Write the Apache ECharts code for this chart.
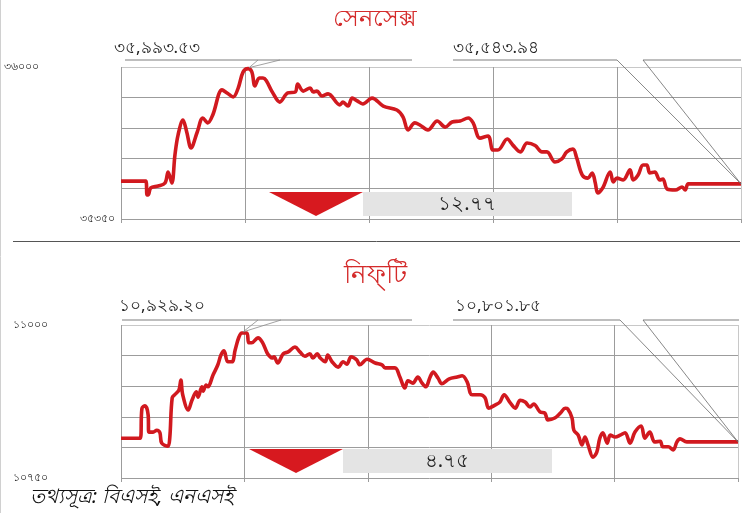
<!DOCTYPE html>
<html>
<head>
<meta charset="utf-8">
<script src="https://cdn.jsdelivr.net/npm/echarts@6/dist/echarts.min.js"></script>
<style>
html,body{margin:0;padding:0;background:#fff;}
#c{width:750px;height:513px;}
</style>
</head>
<body>
<div id="c"></div>
<script>
// ---------- DATA ----------
var sensexTitle = 'সেনসেক্স';
var niftyTitle = 'নিফ্‌টি';
var sourceText = 'তথ্যসূত্র: বিএসই, এনএসই';

var sensexTicks = ['৩৫৩৫০', '৩৬০০০'];   // min, max labels
var niftyTicks = ['১০৭৫০', '১১০০০'];

var sensexHighLabel = '৩৫,৯৯৩.৫৩';
var sensexCloseLabel = '৩৫,৫৪৩.৯৪';
var sensexChange = '১২.৭৭';
var niftyHighLabel = '১০,৯২৯.২০';
var niftyCloseLabel = '১০,৮০১.৮৫';
var niftyChange = '৪.৭৫';

// time in % of the trading session
var sensexTime = [0,4.0,4.2,4.4,4.8,6.0,7.1,7.6,8.2,8.7,9.2,10.0,10.6,11.3,12.3,13.2,14.0,14.8,16.3,17.1,18.1,18.9,19.7,20.5,21.1,21.6,22.3,22.9,24.4,25.6,26.9,28.1,28.5,29.4,30.5,31.0,31.6,32.4,33.4,35.3,35.8,36.6,37.3,38.1,39.0,40.5,42.3,44.5,45.5,46.3,47.4,48.2,49.5,51.0,52.3,53.4,54.7,56.0,56.8,57.9,59.2,60.0,60.8,62.3,63.2,64.4,65.5,66.8,67.9,68.7,70.0,71.1,71.9,72.9,73.5,74.4,75.3,76.0,76.5,76.9,77.7,78.9,79.4,80.0,81.0,82.1,82.6,83.4,84.2,84.8,85.3,86.1,86.9,87.4,88.1,89.4,90.5,91.0,91.5,93.7,100];
var sensexValue = [35512,35512,35453,35453,35483,35491,35504,35551,35504,35624,35709,35773,35722,35654,35722,35782,35761,35795,35902,35889,35872,35910,35979,35993,35979,35919,35953,35953,35893,35850,35889,35893,35927,35897,35910,35893,35897,35876,35885,35838,35850,35833,35867,35855,35842,35867,35833,35816,35786,35731,35761,35752,35731,35769,35743,35765,35769,35782,35761,35696,35705,35645,35645,35692,35666,35637,35675,35664,35637,35637,35594,35607,35637,35649,35611,35538,35525,35547,35504,35461,35483,35551,35508,35525,35517,35560,35517,35538,35581,35581,35547,35551,35517,35521,35478,35474,35487,35474,35500,35500,35500];

var niftyTime = [0,3.1,3.4,3.9,4.4,4.5,5.2,5.8,6.3,6.6,7.6,7.9,8.3,8.8,9.4,9.7,10.0,10.9,11.5,12.2,12.5,13.1,13.3,13.8,14.1,14.9,15.7,16.2,16.7,17.3,18.0,18.5,19.1,19.6,20.4,20.7,21.2,22.2,22.9,23.7,24.1,24.5,24.8,25.4,26.3,27.1,28.2,29.0,29.8,30.6,31.1,31.8,32.3,33.1,33.5,34.2,35.2,36.0,36.6,37.3,38.2,38.7,39.9,41.2,42.3,42.8,44.4,45.2,46.0,46.5,47.3,48.1,48.8,49.4,50.1,50.6,51.4,52.0,53.2,54.5,55.3,56.1,56.9,58.2,59.0,59.6,60.6,61.4,62.1,63.0,63.9,64.7,65.5,66.3,66.9,67.9,68.7,69.2,70.3,71.2,72.0,72.4,73.1,73.4,74.1,74.7,75.2,75.7,76.5,77.1,77.6,78.1,78.8,79.3,80.1,80.9,81.7,82.5,83.3,84.3,84.9,85.7,86.5,87.4,87.8,88.7,89.5,90.1,90.6,91.7,100];
var niftyValue = [10815,10815,10864,10868,10853,10825,10825,10828,10824,10807,10802,10815,10881,10887,10894,10910,10886,10861,10877,10891,10882,10899,10892,10902,10899,10918,10935,10951,10958,10940,10940,10959,10980,10987,10987,10971,10971,10979,10972,10954,10949,10946,10948,10938,10953,10956,10964,10956,10949,10953,10946,10953,10946,10940,10951,10940,10931,10940,10936,10948,10943,10935,10944,10938,10935,10930,10930,10915,10897,10909,10905,10915,10905,10899,10915,10923,10913,10904,10912,10915,10917,10907,10886,10886,10881,10864,10869,10874,10886,10874,10864,10877,10874,10866,10871,10858,10856,10845,10848,10856,10864,10863,10848,10828,10820,10804,10817,10804,10784,10792,10815,10824,10807,10820,10817,10820,10824,10807,10825,10835,10815,10825,10809,10810,10801,10801,10796,10809,10814,10809,10809];

// ---------- CHART ----------
function pairs(t, v){ return t.map(function(x,i){ return [x, v[i]]; }); }
var RED = '#d1191f';
var GRID = '#9c9c9c';
var FONT = '"Noto Sans", "DejaVu Sans", sans-serif';

function xAxisCfg(gi){
  return {
    gridIndex: gi, type: 'value', min: 0, max: 100, interval: 20,
    axisLine: {show: false},
    axisTick: {show: true, length: 4, lineStyle: {color: GRID}},
    axisLabel: {show: false},
    splitLine: {show: true, lineStyle: {color: [GRID,GRID,GRID,GRID,GRID,'#c8c8c8'], width: 1}}
  };
}
function yAxisCfg(gi, min, max, interval, ticks, margin, topPad){
  return {
    gridIndex: gi, type: 'value', min: min, max: max, interval: interval,
    axisLine: {show: false}, axisTick: {show: false},
    axisLabel: {
      show: true, margin: margin, fontSize: 11, color: '#222', fontFamily: FONT,
      formatter: function(v){
        if (Math.abs(v - min) < 1e-6) return '{b|' + ticks[0] + '}';
        if (Math.abs(v - max) < 1e-6) return '{a|' + ticks[1] + '}';
        return '';
      },
      rich: {
        a: {fontSize: 11, color: '#222', fontFamily: FONT, padding: [0, topPad, 0, 0]},
        b: {fontSize: 11, color: '#222', fontFamily: FONT}
      }
    },
    splitLine: {show: true, lineStyle: {color: [GRID,GRID,GRID,GRID,GRID,'#c8c8c8'], width: 1}}
  };
}

var chart = echarts.init(document.getElementById('c'), null, {renderer: 'canvas'});
chart.setOption({
  animation: false,
  backgroundColor: '#fff',
  title: [
    {text: sensexTitle, left: 'center', top: 2, textStyle: {color: '#d42a2a', fontSize: 24, fontWeight: 'normal', fontFamily: FONT}},
    {text: niftyTitle, left: 'center', top: 258, textStyle: {color: '#d42a2a', fontSize: 26, fontWeight: 'normal', fontFamily: FONT}}
  ],
  grid: [
    {left: 121, top: 67, width: 620, height: 152, containLabel: false, outerBoundsMode: 'none'},
    {left: 121, top: 325, width: 617, height: 153, containLabel: false, outerBoundsMode: 'none'}
  ],
  xAxis: [xAxisCfg(0), xAxisCfg(1)],
  yAxis: [
    yAxisCfg(0, 35350, 36000, 130, sensexTicks, 6, 76),
    yAxisCfg(1, 10750, 11000, 50, niftyTicks, 73, 0)
  ],
  series: [
    {type: 'line', xAxisIndex: 0, yAxisIndex: 0, data: pairs(sensexTime, sensexValue), showSymbol: false, smooth: 0.35,
     lineStyle: {color: RED, width: 3.6}, z: 5},
    {type: 'line', xAxisIndex: 1, yAxisIndex: 1, data: pairs(niftyTime, niftyValue), showSymbol: false, smooth: 0.35,
     lineStyle: {color: RED, width: 3.6}, z: 5}
  ]
});

function peakIdx(v){ var m = 0; for (var i=1;i<v.length;i++) if (v[i] > v[m]) m = i; return m; }
function px(gi, t, v){ return chart.convertToPixel({xAxisIndex: gi, yAxisIndex: gi}, [t, v]); }

var sp = px(0, sensexTime[peakIdx(sensexValue)], sensexValue[peakIdx(sensexValue)]);
var se = px(0, sensexTime[sensexTime.length-1], sensexValue[sensexValue.length-1]);
var np = px(1, niftyTime[peakIdx(niftyValue)], niftyValue[peakIdx(niftyValue)]);
var ne = px(1, niftyTime[niftyTime.length-1], niftyValue[niftyValue.length-1]);

var LINEC = '#a8a8a8';
var DIAG = '#6a6a6a';
function hline(x1, x2, y){ return {type:'line', shape:{x1:x1,y1:y,x2:x2,y2:y}, style:{stroke:LINEC, lineWidth:1.6}, z:10}; }
function seg(x1,y1,x2,y2,c,w){ return {type:'line', shape:{x1:x1,y1:y1,x2:x2,y2:y2}, style:{stroke:c, lineWidth:w}, z:10}; }
function txt(x, y, s, size, align, extra){
  var st = {text: s, x: x, y: y, fill: '#222', fontSize: size, fontFamily: FONT, textAlign: align || 'left', textVerticalAlign: 'middle'};
  if (extra) for (var k in extra) st[k] = extra[k];
  return {type:'text', style: st, z: 12};
}

function panel(yLine, peak, end, xs, changeBox, changeText, hiLabel, closeLabel, yText){
  var g = [];
  g.push(hline(xs.h1a, xs.h1b, yLine));
  g.push(hline(xs.h2a, xs.h2b, yLine));
  g.push(hline(xs.h3a, xs.h3b, yLine));
  g.push(seg(peak[0]+1, peak[1]-1, xs.w1, yLine, '#8a8a8a', 0.8));
  g.push(seg(peak[0]+1, peak[1]-1, xs.w2, yLine, '#8a8a8a', 0.8));
  g.push(seg(xs.h2b, yLine, end[0], end[1], DIAG, 0.8));
  g.push(seg(xs.h3a, yLine, end[0], end[1], DIAG, 0.8));
  g.push(txt(xs.t1, yText, hiLabel, 17));
  g.push(txt(xs.t2, yText, closeLabel, 17));
  var b = changeBox;
  g.push({type:'polygon', shape:{points:[[b.tx1,b.y1],[b.tx2,b.y1],[(b.tx1+b.tx2)/2,b.y2]]}, style:{fill:'#d7191f'}, z:8});
  g.push({type:'rect', shape:{x:b.tx2, y:b.y1, width:b.bx2-b.tx2, height:b.y2-b.y1}, style:{fill:'#e4e4e4'}, z:8});
  g.push(txt(b.tc, (b.y1+b.y2)/2, changeText, 20, 'center'));
  return g;
}

var graphics = [];
graphics = graphics.concat(panel(60, sp, se,
  {h1a:125,h1b:412,h2a:453,h2b:617,h3a:643,h3b:741,w1:258,w2:280,t1:114,t2:453},
  {tx1:269, tx2:363, bx2:572, y1:192, y2:216, tc:467},
  sensexChange, sensexHighLabel, sensexCloseLabel, 48));
graphics = graphics.concat(panel(320, np, ne,
  {h1a:122,h1b:412,h2a:453,h2b:620,h3a:643,h3b:739,w1:258,w2:281,t1:119,t2:455},
  {tx1:249, tx2:343, bx2:552, y1:449, y2:473, tc:447},
  niftyChange, niftyHighLabel, niftyCloseLabel, 306));
// separator & frame
graphics.push(seg(13, 241.5, 740, 241.5, '#555', 1));
graphics.push(seg(0.5, 0, 0.5, 513, '#d0d0d0', 1));
// source
graphics.push(txt(30, 497, sourceText, 20, 'left', {fontStyle: 'italic', fill: '#111'}));

chart.setOption({graphic: graphics});
</script>
</body>
</html>
